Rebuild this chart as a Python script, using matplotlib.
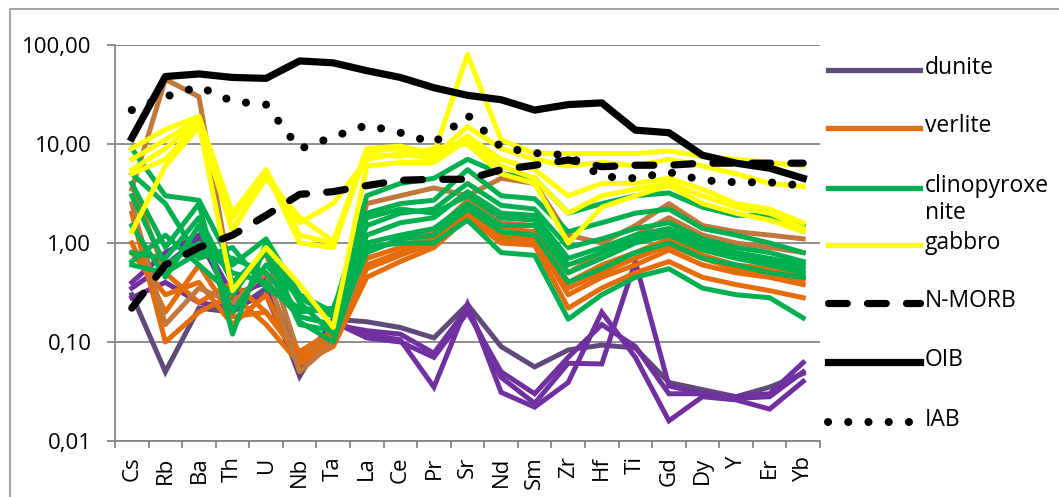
import matplotlib.pyplot as plt
from matplotlib.lines import Line2D
from matplotlib.ticker import NullLocator

plt.rcParams['font.family'] = ['Open Sans', 'DejaVu Sans']

# element order on the spider diagram
elements = ["Cs", "Rb", "Ba", "Th", "U", "Nb", "Ta", "La", "Ce", "Pr", "Sr",
            "Nd", "Sm", "Zr", "Hf", "Ti", "Gd", "Dy", "Y", "Er", "Yb"]

# normalised concentrations
dunite = [
    [0.30, 0.05, 0.22, 0.20, 0.35, 0.045, 0.17, 0.16, 0.14, 0.11, 0.24, 0.09, 0.056, 0.083, 0.093, 0.087, 0.039, 0.033, 0.028, 0.035, 0.048],
    [0.35, 0.60, 1.10, 0.25, 0.45, 0.060, 0.16, 0.12, 0.105, 0.035, 0.24, 0.031, 0.022, 0.039, 0.20, 0.070, 0.016, 0.028, 0.026, 0.021, 0.040],
    [0.40, 0.80, 1.20, 0.30, 0.40, 0.050, 0.15, 0.13, 0.12, 0.077, 0.22, 0.044, 0.024, 0.061, 0.060, 0.65, 0.036, 0.030, 0.028, 0.030, 0.062],
    [0.28, 0.40, 0.25, 0.22, 0.30, 0.050, 0.16, 0.11, 0.10, 0.070, 0.20, 0.050, 0.030, 0.070, 0.15, 0.090, 0.030, 0.030, 0.027, 0.028, 0.050],
]
verlite = [
    [3.5, 45.0, 30.0, 0.35, 0.80, 0.07, 0.12, 2.5, 3.0, 3.6, 3.0, 4.5, 4.0, 1.2, 1.0, 1.5, 2.5, 1.5, 1.3, 1.2, 1.1],
    [2.0, 0.10, 0.20, 0.30, 0.15, 0.06, 0.09, 0.45, 0.65, 0.90, 1.8, 1.0, 0.95, 0.22, 0.35, 0.50, 0.65, 0.45, 0.38, 0.33, 0.28],
    [1.0, 0.20, 0.60, 0.18, 0.20, 0.07, 0.10, 0.55, 0.75, 1.0, 2.2, 1.2, 1.1, 0.30, 0.45, 0.60, 0.85, 0.60, 0.50, 0.45, 0.38],
    [0.8, 0.30, 0.40, 0.15, 0.30, 0.06, 0.11, 0.70, 0.90, 1.2, 2.5, 1.4, 1.3, 0.40, 0.60, 0.80, 1.1, 0.75, 0.60, 0.55, 0.45],
    [4.0, 0.50, 0.25, 0.40, 0.20, 0.08, 0.13, 0.60, 0.80, 1.1, 2.0, 1.1, 1.0, 0.35, 0.50, 0.70, 0.95, 0.70, 0.55, 0.50, 0.42],
    [2.5, 0.15, 0.35, 0.25, 0.50, 0.05, 0.10, 0.80, 1.1, 1.3, 2.7, 1.6, 1.5, 0.50, 0.80, 1.2, 1.8, 1.2, 1.0, 0.90, 0.80],
]
verlite_colors = ["#C0783C", "#E46C0A", "#E46C0A", "#E46C0A", "#E46C0A", "#C0783C"]
clinopyroxenite = [
    [9.0, 3.0, 2.7, 0.60, 1.1, 0.30, 0.20, 3.0, 4.0, 4.5, 7.0, 5.0, 4.5, 2.0, 2.5, 3.0, 3.2, 2.3, 1.9, 1.9, 1.5],
    [4.0, 0.90, 2.5, 0.12, 1.0, 0.25, 0.12, 2.0, 2.5, 2.7, 5.5, 3.0, 2.8, 1.3, 1.6, 2.0, 2.2, 1.4, 1.2, 1.0, 0.80],
    [0.60, 0.50, 0.80, 0.70, 0.50, 0.20, 0.22, 1.5, 2.0, 2.2, 4.0, 2.4, 2.2, 0.90, 1.1, 1.4, 1.6, 1.1, 0.90, 0.80, 0.65],
    [3.0, 0.60, 1.0, 0.50, 0.40, 0.18, 0.15, 1.2, 1.6, 1.8, 3.3, 2.0, 1.9, 0.70, 0.90, 1.2, 1.4, 1.0, 0.80, 0.70, 0.60],
    [0.65, 1.2, 0.60, 0.30, 0.90, 0.16, 0.10, 1.0, 1.2, 1.4, 2.5, 1.5, 1.5, 0.50, 0.70, 1.0, 1.2, 0.85, 0.70, 0.60, 0.50],
    [1.5, 0.45, 1.5, 0.20, 0.60, 0.28, 0.18, 0.90, 1.0, 1.0, 1.7, 0.80, 0.75, 0.17, 0.30, 0.45, 0.55, 0.35, 0.30, 0.28, 0.175],
    [5.0, 2.5, 0.70, 0.90, 0.35, 0.22, 0.20, 1.8, 2.2, 2.0, 3.0, 1.8, 1.7, 0.60, 0.80, 1.1, 1.3, 0.90, 0.75, 0.65, 0.55],
    [0.80, 0.70, 1.8, 0.40, 0.80, 0.15, 0.13, 0.80, 1.1, 1.2, 2.2, 1.3, 1.2, 0.40, 0.55, 0.80, 1.0, 0.70, 0.60, 0.50, 0.45],
]
gabbro = [
    [9.0, 14.0, 19.0, 2.0, 5.5, 1.2, 1.0, 9.0, 9.5, 8.0, 80.0, 11.0, 8.0, 8.0, 8.0, 8.0, 8.5, 7.5, 7.0, 6.5, 6.0],
    [5.5, 9.0, 17.0, 1.3, 5.0, 1.6, 2.5, 7.0, 8.0, 7.0, 12.0, 7.0, 5.5, 3.0, 4.0, 4.0, 4.5, 3.5, 2.5, 2.2, 1.6],
    [1.3, 6.0, 15.0, 1.4, 4.5, 1.8, 1.05, 8.0, 7.5, 9.0, 10.0, 5.0, 4.0, 1.0, 2.3, 3.0, 3.8, 2.5, 2.0, 1.7, 1.3],
    [5.0, 7.0, 16.0, 0.33, 0.90, 0.38, 0.14, 6.0, 6.5, 6.5, 11.0, 6.0, 4.5, 2.0, 3.0, 3.5, 4.0, 3.0, 2.3, 2.0, 1.4],
    [7.0, 11.0, 18.0, 1.8, 5.2, 1.0, 0.90, 8.5, 9.0, 7.5, 15.0, 9.0, 7.0, 6.0, 6.5, 6.0, 7.0, 6.0, 5.0, 4.0, 3.7],
]
n_morb = [0.22, 0.60, 0.90, 1.2, 1.9, 3.1, 3.3, 3.8, 4.3, 4.4, 4.4, 5.5, 6.1, 6.9, 5.9, 6.1, 6.1, 6.4, 6.4, 6.4, 6.4]
oib = [11.5, 48.0, 51.0, 47.0, 46.0, 69.0, 66.0, 55.0, 47.0, 37.0, 31.0, 28.0, 22.0, 25.0, 26.0, 13.8, 13.0, 7.7, 6.4, 5.7, 4.5]
iab = [22.0, 30.0, 38.0, 27.0, 25.0, 8.9, 11.8, 15.5, 13.0, 10.2, 19.6, 9.3, 8.1, 7.7, 4.7, 4.5, 5.2, 4.3, 4.1, 4.1, 3.8]

x = list(range(len(elements)))

fig = plt.figure(figsize=(10.59, 4.97), dpi=100)
ax = fig.add_axes([0.1086, 0.1127, 0.6657, 0.7968])

lw = 3.6
for i, row in enumerate(dunite):
    ax.plot(x, row, color="#604A7B" if i == 0 else "#7030A0", lw=lw, solid_joinstyle="miter")
for row, c in zip(verlite, verlite_colors):
    ax.plot(x, row, color=c, lw=lw)
for row in clinopyroxenite:
    ax.plot(x, row, color="#00B050", lw=lw)
for row in gabbro:
    ax.plot(x, row, color="#FFFF00", lw=lw)

morb_style = dict(color="black", lw=5.2, linestyle=(0, (2.6, 2.8)), dash_capstyle="round")
oib_style = dict(color="black", lw=5.2)
iab_style = dict(color="black", lw=5.8, linestyle=(0, (0.01, 2.5)), dash_capstyle="round")
ax.plot(x, n_morb, **morb_style)
ax.plot(x, oib, **oib_style)
ax.plot(x, iab, **iab_style)

ax.set_yscale("log")
ax.set_ylim(0.01, 100)
ax.set_xlim(-0.5, len(elements) - 0.5)
yt = [0.01, 0.1, 1, 10, 100]
ax.set_yticks(yt)
ax.set_yticklabels([f"{v:.2f}".replace(".", ",") for v in yt])
ax.yaxis.set_minor_locator(NullLocator())
ax.yaxis.grid(True, color="#868686", lw=1.3)
ax.set_axisbelow(True)

ax.set_xticks([i - 0.5 for i in range(len(elements) + 1)])
ax.set_xticklabels([])
ax.set_xticks(x, minor=True)
ax.set_xticklabels(elements, minor=True, rotation=90)
ax.tick_params(axis="x", which="major", length=5, width=1.3, color="#868686")
ax.tick_params(axis="x", which="minor", length=0, pad=11, labelsize=16)
ax.tick_params(axis="y", length=6, width=1.3, color="#868686", pad=11, labelsize=16)

for s in ["top", "right"]:
    ax.spines[s].set_visible(False)
for s in ["left", "bottom"]:
    ax.spines[s].set_color("#868686")
    ax.spines[s].set_linewidth(1.3)

# legend drawn by hand, the way the spreadsheet lays it out
W, H = 1059, 497
legend_items = [
    ("dunite", 70, dict(color="#604A7B", lw=3.8)),
    ("verlite", 128, dict(color="#E46C0A", lw=3.8)),
    ("clinopyroxe\nnite", 188, dict(color="#00B050", lw=3.8)),
    ("gabbro", 245, dict(color="#FFFF00", lw=3.8)),
    ("N-MORB", 303, morb_style),
    ("OIB", 362, oib_style),
    ("IAB", 422, iab_style),
]
for label, ypx, style in legend_items:
    yf = 1 - ypx / H
    fig.add_artist(Line2D([828 / W, 920 / W], [yf, yf], transform=fig.transFigure, **style))
    fig.text(925 / W, 1 - (ypx - 14) / H, label, fontsize=16.5, va="top", ha="left",
             linespacing=1.15)

# chart frame
fig.add_artist(Line2D([10 / W, 10 / W, 1.0], [0.0, 1 - 9 / H, 1 - 9 / H],
                      transform=fig.transFigure, color="#A6A6A6", lw=1.5))

fig.savefig("out.png", dpi=100)
